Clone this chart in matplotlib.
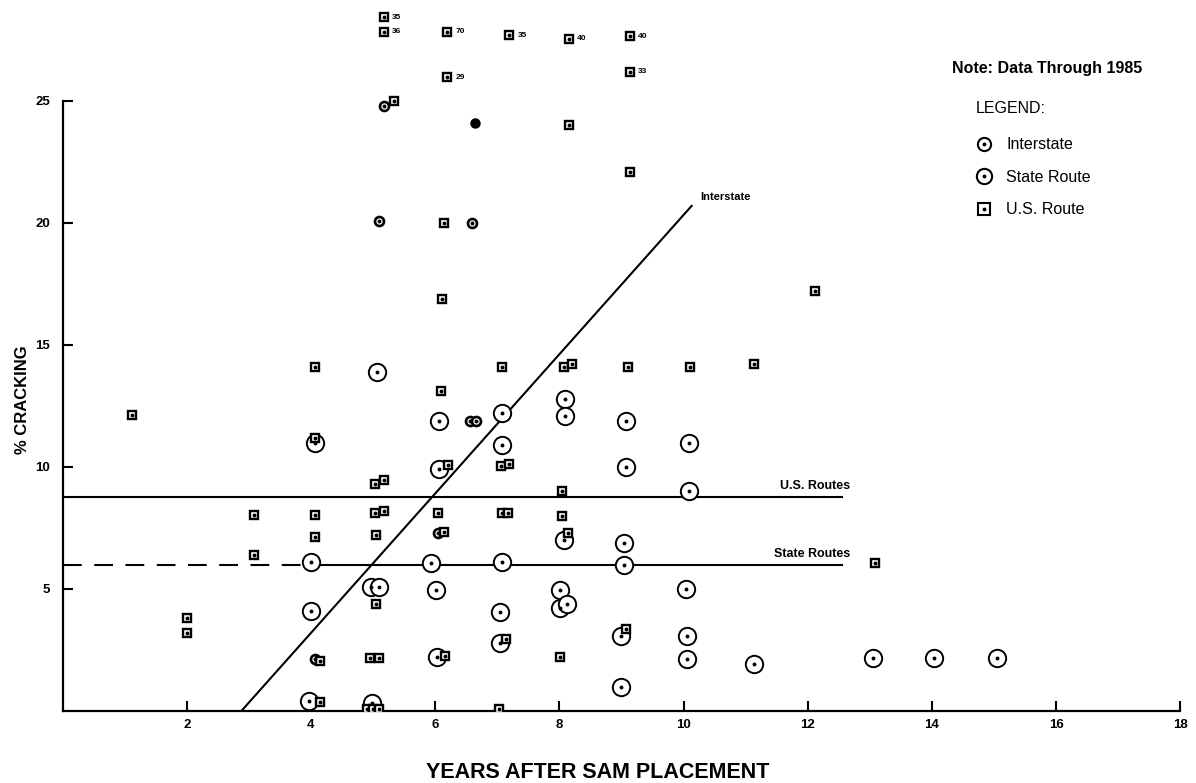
import matplotlib.pyplot as plt
from matplotlib.lines import Line2D
from matplotlib.legend_handler import HandlerTuple

plt.rcParams['font.family'] = ['Liberation Sans', 'DejaVu Sans']

# interstate sections (small circles)
inter_x = [5.17, 5.09, 6.60, 6.56, 6.66, 6.05, 4.06]
inter_y = [24.8, 20.1, 20.0, 11.9, 11.9, 7.3, 2.15]
inter_solid_x = [6.64]
inter_solid_y = [24.1]

# state route sections (large circles)
state_x = [5.06, 8.09, 6.07, 7.07, 8.09, 9.07, 7.07, 10.08, 4.06, 6.06,
           9.07, 10.08, 8.07, 9.04, 5.94, 7.07, 9.04, 4.00, 4.96, 5.09,
           6.01, 8.01, 10.04, 4.00, 7.04, 8.01, 8.12, 7.04, 9.00, 10.05,
           6.03, 10.05, 11.13, 13.05, 14.04, 15.05, 9.00, 4.98, 3.97]
state_y = [13.9, 12.8, 11.9, 12.2, 12.1, 11.9, 10.9, 11.0, 11.0, 9.9,
           10.0, 9.0, 7.0, 6.9, 6.05, 6.1, 6.0, 6.1, 5.07, 5.1,
           4.95, 4.95, 5.0, 4.1, 4.05, 4.2, 4.4, 2.8, 3.07, 3.07,
           2.2, 2.15, 1.92, 2.17, 2.17, 2.17, 0.98, 0.33, 0.4]

# U.S. route sections (squares)
us_x = [1.12, 2.01, 2.01, 3.08, 3.08, 4.06, 4.06, 4.06, 4.06, 4.15,
        4.15, 4.90, 5.00, 5.10, 4.95, 5.09, 5.03, 5.17, 5.04, 5.04,
        5.03, 5.17, 5.33, 6.09, 6.11, 6.14, 6.20, 6.04, 6.14, 6.16,
        7.07, 7.06, 7.19, 7.07, 7.18, 7.14, 7.03, 8.07, 8.21, 8.04,
        8.04, 8.14, 8.01, 8.15, 9.10, 9.07, 9.13, 10.10, 11.13, 12.12,
        13.08]
us_y = [12.15, 3.8, 3.2, 8.05, 6.4, 14.1, 11.2, 8.05, 7.15, 2.05,
        0.37, 0.08, 0.08, 0.08, 2.17, 2.17, 8.1, 8.2, 7.2, 4.4,
        9.3, 9.45, 25.0, 13.1, 16.9, 20.0, 10.1, 8.1, 7.35, 2.25,
        14.1, 10.06, 10.14, 8.1, 8.1, 2.95, 0.08, 14.1, 14.2, 9.0,
        8.0, 7.3, 2.2, 24.0, 14.1, 3.35, 22.1, 14.1, 14.2, 17.2,
        6.05]

# off-scale U.S. route sections, drawn at the top with their value
off_x = [5.17, 5.17, 6.19, 7.19, 8.15, 9.13, 6.19, 9.13]
off_y = [28.44, 27.83, 27.83, 27.70, 27.54, 27.66, 25.98, 26.19]
off_val = ['35', '36', '70', '35', '40', '40', '29', '33']

# fitted trends
inter_fit_x = [2.88, 10.13]
inter_fit_y = [0.0, 20.7]
us_mean = 8.75
us_fit_x = [0.0, 12.55]
state_mean = 5.97
state_dash_x = [0.0, 4.0]
state_fit_x = [4.0, 12.55]

fig = plt.figure(figsize=(11.96, 7.83), dpi=100)
ax = fig.add_axes([0.0523, 0.092, 0.9346, 0.9037])


def dotted(x, y, marker, ms, mew):
    ax.plot(x, y, ls='none', marker=marker, ms=ms, mfc='white', mec='black',
            mew=mew, zorder=3)
    ax.plot(x, y, ls='none', marker='o', ms=1.8, color='black', zorder=4)


dotted(state_x, state_y, 'o', 12.5, 1.4)
dotted(inter_x, inter_y, 'o', 6.5, 1.9)
dotted(us_x, us_y, 's', 6.3, 1.7)
dotted(off_x, off_y, 's', 6.3, 1.7)
ax.plot(inter_solid_x, inter_solid_y, ls='none', marker='o', ms=6.5,
        color='black', zorder=3)
for x, y, s in zip(off_x, off_y, off_val):
    ax.text(x + 0.14, y, s, fontsize=6, fontweight='bold', va='center')

ax.plot(inter_fit_x, inter_fit_y, color='black', lw=1.5, zorder=2)
ax.plot(us_fit_x, [us_mean, us_mean], color='black', lw=1.5, zorder=2)
ax.plot(state_fit_x, [state_mean, state_mean], color='black', lw=1.5, zorder=2)
ax.plot(state_dash_x, [state_mean, state_mean], color='black', lw=1.5,
        ls=(0, (9, 6)), zorder=2)

ax.text(inter_fit_x[1] + 0.14, inter_fit_y[1] + 0.35, 'Interstate',
        fontsize=8, fontweight='bold', va='center')
ax.text(us_fit_x[1] + 0.13, us_mean + 0.45, 'U.S. Routes',
        fontsize=9, fontweight='bold', va='center', ha='right')
ax.text(state_fit_x[1] + 0.13, state_mean + 0.48, 'State Routes',
        fontsize=9, fontweight='bold', va='center', ha='right')

ax.set_xlim(0, 18)
ax.set_ylim(0, 29)
ax.set_xticks(range(2, 19, 2))
ax.set_yticks(range(5, 26, 5))
ax.spines['top'].set_visible(False)
ax.spines['right'].set_visible(False)
ax.spines['left'].set_bounds(0, 25)
for sp in ('left', 'bottom'):
    ax.spines[sp].set_linewidth(1.6)
ax.tick_params(direction='in', length=7, width=1.5, labelsize=9.5)
ax.tick_params(axis='y', pad=9)
ax.tick_params(axis='x', pad=6)
for lab in ax.get_xticklabels() + ax.get_yticklabels():
    lab.set_fontweight('bold')

fig.text(0.5, 0.014, 'YEARS AFTER SAM PLACEMENT', ha='center', va='center',
         fontsize=15.5, fontweight='bold')
fig.text(0.019, 0.49, '% CRACKING', ha='center', va='center', rotation=90,
         fontsize=12, fontweight='bold')

fig.text(0.796, 0.913, 'Note: Data Through 1985', fontsize=11.5,
         fontweight='bold', va='center')
fig.text(0.816, 0.862, 'LEGEND:', fontsize=11.5, va='center')

dot = Line2D([], [], ls='none', marker='o', ms=1.8, color='black')
h_inter = Line2D([], [], ls='none', marker='o', ms=9.5, mfc='white',
                 mec='black', mew=1.5)
h_state = Line2D([], [], ls='none', marker='o', ms=11, mfc='white',
                 mec='black', mew=1.5)
h_us = Line2D([], [], ls='none', marker='s', ms=9, mfc='white',
              mec='black', mew=1.5)
ax.legend([(h_inter, dot), (h_state, dot), (h_us, dot)],
          ['Interstate', 'State Route', 'U.S. Route'],
          handler_map={tuple: HandlerTuple(ndivide=1)},
          loc='upper left', bbox_to_anchor=(0.808, 0.835),
          bbox_transform=fig.transFigure, frameon=False, fontsize=11.5,
          handlelength=1.2, handletextpad=0.8, labelspacing=1.1,
          borderpad=0)

fig.savefig('out.png', dpi=100)
